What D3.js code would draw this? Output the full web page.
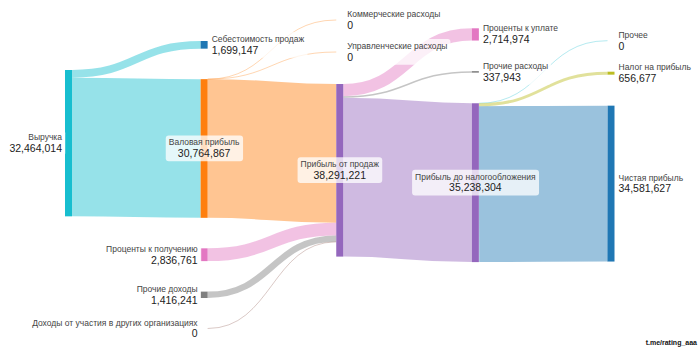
<!DOCTYPE html>
<html>
<head>
<meta charset="utf-8">
<script src="https://cdn.jsdelivr.net/npm/d3@7"></script>
<style>
  body { margin: 0; background: #fff; }
  svg { display: block; font-family: "Liberation Sans", Arial, sans-serif; }
</style>
</head>
<body>
<div id="chart"></div>
<script>
// nodes
const nodeNames = [
  "Выручка",
  "Себестоимость продаж",
  "Валовая прибыль",
  "Проценты к получению",
  "Прочие доходы",
  "Доходы от участия в других организациях",
  "Коммерческие расходы",
  "Управленческие расходы",
  "Прибыль от продаж",
  "Проценты к уплате",
  "Прочие расходы",
  "Прибыль до налогообложения",
  "Прочее",
  "Налог на прибыль",
  "Чистая прибыль"
];
const nodeValues = [
  32464014, 1699147, 30764867, 2836761, 1416241, 0,
  0, 0, 38291221,
  2714974, 337943, 35238304,
  0, 656677, 34581627
];

// links (indexes into nodeNames)
const linkSource = [0, 0, 2, 2, 2, 3, 4, 5, 8, 8, 8, 11, 11, 11];
const linkTarget = [1, 2, 6, 7, 8, 8, 8, 8, 9, 10, 11, 12, 13, 14];
const linkValue = [1699147, 30764867, 0, 0, 30764867, 2836761, 1416241, 0,
  2714974, 337943, 35238304, 0, 656677, 34581627];

// layout / style
const nodeColumn = [0, 1, 1, 1, 1, 1, 2, 2, 2, 3, 3, 3, 4, 4, 4];
const nodeColor = ["#17becf", "#1f77b4", "#ff7f0e", "#e377c2", "#7f7f7f", "#8c564b",
  "#2ca02c", "#d62728", "#9467bd", "#e377c2", "#7f7f7f", "#9467bd",
  "#17becf", "#bcbd22", "#1f77b4"];
const colTop = [70, 41, 20, 28.3, 40.7];
const colPad = [30, 30.5, 32, 30.6, 31];
const nodeW = 7;

const width = 700, height = 350;

const svg = d3.select("#chart").append("svg")
  .attr("width", width)
  .attr("height", height);

const x = d3.scaleLinear().domain([0, 4]).range([65, 607.5]);
const h = d3.scaleLinear().domain([0, d3.max(nodeValues)]).range([0, 172.6]);

// build nodes, stacked per column
let nodes = nodeNames.map((name, i) => ({
  i: i, name: name, value: nodeValues[i], col: nodeColumn[i],
  color: nodeColor[i], inLinks: [], outLinks: []
}));
let cursor = colTop.slice();
nodes.forEach(n => {
  n.x0 = x(n.col);
  n.x1 = n.x0 + nodeW;
  n.y0 = cursor[n.col];
  n.y1 = n.y0 + h(n.value);
  cursor[n.col] = n.y1 + colPad[n.col];
});

let links = linkSource.map((s, i) => ({
  source: nodes[s], target: nodes[linkTarget[i]], value: linkValue[i]
}));
links.forEach(l => {
  l.width = h(l.value);
  l.source.outLinks.push(l);
  l.target.inLinks.push(l);
});
nodes.forEach(n => {
  let y0 = n.y0;
  n.outLinks.sort((a, b) => a.target.y0 - b.target.y0).forEach(l => {
    l.y0 = y0 + l.width / 2;
    y0 += l.width;
  });
  let y1 = n.y0;
  n.inLinks.sort((a, b) => a.source.y0 - b.source.y0).forEach(l => {
    l.y1 = y1 + l.width / 2;
    y1 += l.width;
  });
});

const linkPath = d3.linkHorizontal()
  .source(d => [d.source.x1, d.y0])
  .target(d => [d.target.x0, d.y1]);

svg.append("g")
  .attr("fill", "none")
  .selectAll("path")
  .data(links)
  .join("path")
  .attr("d", linkPath)
  .attr("stroke", d => d.target.col <= 2 ? d.source.color : d.target.color)
  .attr("stroke-opacity", d => d.value > 0 ? 0.45 : 0.4)
  .attr("stroke-width", d => Math.max(0.8, d.width));

svg.append("g")
  .selectAll("rect")
  .data(nodes.filter(n => n.value > 0))
  .join("rect")
  .attr("x", d => d.x0)
  .attr("y", d => d.y0)
  .attr("width", nodeW)
  .attr("height", d => d.y1 - d.y0)
  .attr("fill", d => d.color);

// labels
const fmt = d3.format(",");
const label = svg.append("g")
  .selectAll("g")
  .data(nodes)
  .join("g")
  .attr("transform", d => {
    const cy = (d.y0 + d.y1) / 2;
    if (d.inLinks.length && d.outLinks.length) return `translate(${(d.x0 + d.x1) / 2},${cy})`;
    if (!d.inLinks.length) return `translate(${d.x0 - 3},${cy})`;
    return `translate(${d.x1 + 4},${cy})`;
  })
  .attr("text-anchor", d => {
    if (d.inLinks.length && d.outLinks.length) return "middle";
    return d.inLinks.length ? "start" : "end";
  });

const box = label.append("rect")
  .attr("fill", "#fff")
  .attr("fill-opacity", 0.75)
  .attr("rx", 3);

label.append("text")
  .attr("y", -3)
  .attr("font-size", 8.5)
  .attr("fill", "#444")
  .text(d => d.name);

label.append("text")
  .attr("y", 8.8)
  .attr("font-size", 10.5)
  .attr("fill", "#222")
  .text(d => fmt(d.value));

box.each(function () {
  const bb = this.parentNode.getBBox();
  d3.select(this)
    .attr("x", bb.x - 3)
    .attr("y", bb.y - 2)
    .attr("width", bb.width + 6)
    .attr("height", bb.height + 4);
});

svg.append("text")
  .attr("x", 697)
  .attr("y", 345)
  .attr("text-anchor", "end")
  .attr("font-size", 7)
  .attr("font-weight", "bold")
  .attr("fill", "#111")
  .text("t.me/rating_aaa");
</script>
</body>
</html>
